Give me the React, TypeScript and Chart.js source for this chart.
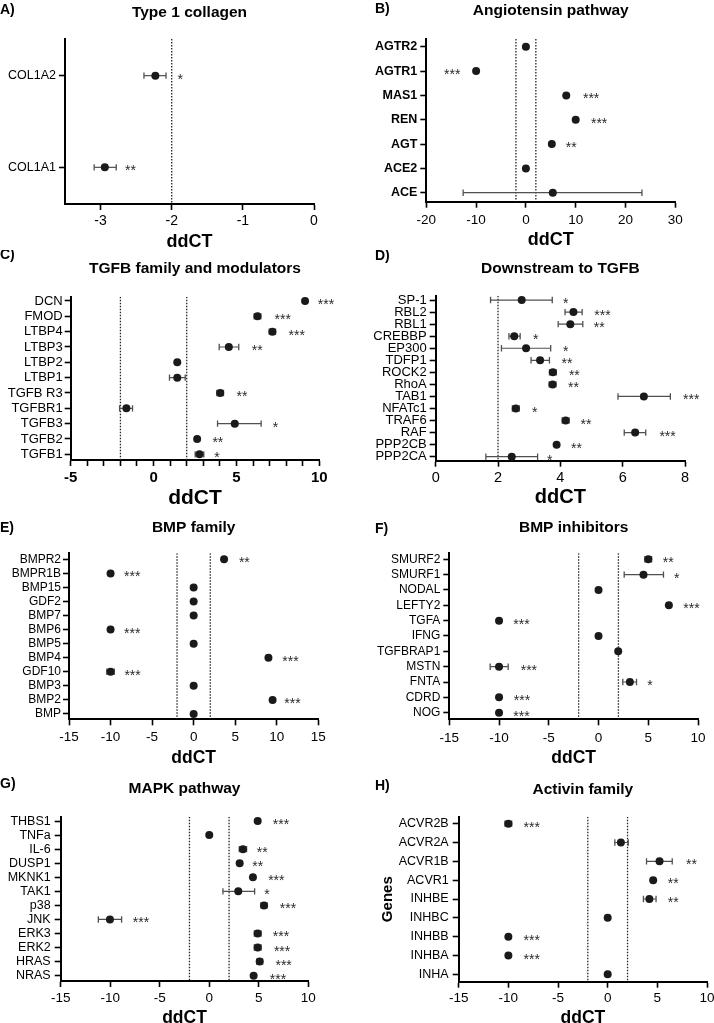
import React, { useEffect, useRef } from "react";
import { Chart, registerables } from "chart.js";

Chart.register(...registerables);

const FONT = "'Liberation Sans', Arial, Helvetica, sans-serif";
Chart.defaults.font.family = FONT;
Chart.defaults.color = "#000";

// ---------- A) Type 1 collagen ----------
const A_GENES = ["COL1A2", "COL1A1"];
const A_MEAN = [-2.23, -2.94];
const A_LO = [-2.39, -3.09];
const A_HI = [-2.08, -2.78];
const A_SIG = ["*", "**"];
const A_SIG_X = [-1.88, -2.58];

// ---------- B) Angiotensin pathway ----------
const B_GENES = ["AGTR2", "AGTR1", "MAS1", "REN", "AGT", "ACE2", "ACE"];
const B_MEAN = [0, -10, 8.1, 10, 5.2, 0, 5.4];
const B_LO = [null, null, null, null, null, null, -12.6];
const B_HI = [null, null, null, null, null, null, 23.3];
const B_SIG = ["", "***", "***", "***", "**", "", ""];
const B_SIG_X = [null, -14.8, 13.1, 14.7, 9.1, null, null];

// ---------- C) TGFB family and modulators ----------
const C_GENES = ["DCN", "FMOD", "LTBP4", "LTBP3", "LTBP2", "LTBP1", "TGFB R3", "TGFBR1", "TGFB3", "TGFB2", "TGFB1"];
const C_MEAN = [9.14, 6.27, 7.17, 4.54, 1.43, 1.43, 4.02, -1.64, 4.9, 2.63, 2.77];
const C_LO = [null, 6.07, 6.98, 3.96, null, 0.96, 3.82, -2.05, 3.86, null, 2.51];
const C_HI = [null, 6.47, 7.36, 5.14, null, 1.91, 4.22, -1.27, 6.49, null, 3.03];
const C_SIG = ["***", "***", "***", "**", "", "", "**", "", "*", "**", "*"];
const C_SIG_X = [10.4, 7.79, 8.64, 6.25, null, null, 5.34, null, 7.35, 3.88, 3.82];

// ---------- D) Downstream to TGFB ----------
const D_GENES = ["SP-1", "RBL2", "RBL1", "CREBBP", "EP300", "TDFP1", "ROCK2", "RhoA", "TAB1", "NFATc1", "TRAF6", "RAF", "PPP2CB", "PPP2CA"];
const D_MEAN = [2.76, 4.42, 4.32, 2.52, 2.9, 3.35, 3.76, 3.75, 6.68, 2.57, 4.17, 6.4, 3.88, 2.44];
const D_LO = [1.76, 4.15, 3.93, 2.35, 2.11, 3.06, 3.65, 3.64, 5.85, 2.46, 4.06, 6.05, null, 1.61];
const D_HI = [3.74, 4.7, 4.72, 2.71, 3.69, 3.65, 3.87, 3.86, 7.53, 2.68, 4.28, 6.74, null, 3.27];
const D_SIG = ["*", "***", "**", "*", "*", "**", "**", "**", "***", "*", "**", "***", "**", "*"];
const D_SIG_X = [4.17, 5.35, 5.25, 3.21, 4.17, 4.21, 4.45, 4.42, 8.2, 3.18, 4.82, 7.44, 4.52, 3.66];

// ---------- E) BMP family ----------
const E_GENES = ["BMPR2", "BMPR1B", "BMP15", "GDF2", "BMP7", "BMP6", "BMP5", "BMP4", "GDF10", "BMP3", "BMP2", "BMP"];
const E_MEAN = [3.66, -10, 0, 0, 0, -10, 0, 9.0, -10, 0, 9.5, 0];
const E_LO = [null, null, null, null, null, null, null, null, -10.45, null, null, null];
const E_HI = [null, null, null, null, null, null, null, null, -9.55, null, null, null];
const E_SIG = ["**", "***", "", "", "", "***", "", "***", "***", "", "***", ""];
const E_SIG_X = [6.1, -7.4, null, null, null, -7.4, null, 11.65, -7.35, null, 11.9, null];

// ---------- F) BMP inhibitors ----------
const F_GENES = ["SMURF2", "SMURF1", "NODAL", "LEFTY2", "TGFA", "IFNG", "TGFBRAP1", "MSTN", "FNTA", "CDRD", "NOG"];
const F_MEAN = [5.0, 4.52, 0, 7.07, -10, 0, 1.98, -10, 3.15, -10, -10];
const F_LO = [4.66, 2.58, null, null, null, null, null, -10.89, 2.44, null, null];
const F_HI = [5.34, 6.53, null, null, null, null, null, -9.08, 3.82, null, null];
const F_SIG = ["**", "*", "", "***", "***", "", "", "***", "*", "***", "***"];
const F_SIG_X = [7.0, 7.87, null, 9.35, -7.74, null, null, -7.0, 5.16, -7.7, -7.74];

// ---------- G) MAPK pathway ----------
const G_GENES = ["THBS1", "TNFa", "IL-6", "DUSP1", "MKNK1", "TAK1", "p38", "JNK", "ERK3", "ERK2", "HRAS", "NRAS"];
const G_MEAN = [4.89, 0, 3.4, 3.07, 4.41, 2.93, 5.53, -10.03, 4.89, 4.89, 5.09, 4.48];
const G_LO = [null, null, 3.03, null, null, 1.38, 5.21, -11.2, 4.55, 4.55, 4.79, null];
const G_HI = [null, null, 3.77, null, null, 4.58, 5.85, -8.85, 5.23, 5.23, 5.39, null];
const G_SIG = ["***", "", "**", "**", "***", "*", "***", "***", "***", "***", "***", "***"];
const G_SIG_X = [7.24, null, 5.35, 4.89, 6.77, 5.83, 7.95, -6.9, 7.24, 7.35, 7.51, 6.94];

// ---------- H) Activin family ----------
const H_GENES = ["ACVR2B", "ACVR2A", "ACVR1B", "ACVR1", "INHBE", "INHBC", "INHBB", "INHBA", "INHA"];
const H_MEAN = [-10, 1.33, 5.22, 4.58, 4.2, 0, -10, -10, 0];
const H_LO = [-10.34, 0.72, 3.91, null, 3.6, null, null, null, null];
const H_HI = [-9.66, 2.07, 6.5, null, 4.87, null, null, null, null];
const H_SIG = ["***", "", "**", "**", "**", "", "***", "***", ""];
const H_SIG_X = [-7.65, null, 8.44, 6.6, 6.6, null, -7.65, -7.65, null];

type Num = number | null;
type Panel = {
  letter: string;
  title: string;
  genes: string[];
  mean: number[];
  lo: Num[];
  hi: Num[];
  sig: string[];
  sigX: Num[];
  xMin: number;
  xMax: number;
  xStep: number;
  labelEvery: number;
  thresholds: number[];
  canvas: [number, number, number, number];
  plot: [number, number, number, number];
  yMin: number;
  yMax: number;
  titleY: number;
  letterX: number;
  letterY: number;
  tickY: number;
  ddctY: number;
  labelSize: number;
  labelBold: boolean;
  tickSize: number;
  tickBold: boolean;
  ddctSize: number;
  yPad: number;
  yTitle?: { text: string; x: number; size: number };
};

const PANELS: Panel[] = [
  {
    letter: "A)", title: "Type 1 collagen", genes: A_GENES, mean: A_MEAN, lo: A_LO, hi: A_HI, sig: A_SIG, sigX: A_SIG_X,
    xMin: -3.5, xMax: 0, xStep: 1, labelEvery: 1, thresholds: [-2],
    canvas: [0, 0, 357, 258], plot: [65, 39, 314, 204], yMin: -0.4, yMax: 1.4,
    titleY: 12.5, letterX: 0, letterY: 10, tickY: 221.2, ddctY: 241.7,
    labelSize: 12.5, labelBold: false, tickSize: 14, tickBold: false, ddctSize: 18, yPad: 3,
  },
  {
    letter: "B)", title: "Angiotensin pathway", genes: B_GENES, mean: B_MEAN, lo: B_LO, hi: B_HI, sig: B_SIG, sigX: B_SIG_X,
    xMin: -20, xMax: 30, xStep: 10, labelEvery: 10, thresholds: [-2, 2],
    canvas: [357, 0, 373, 256], plot: [426.3, 39, 675.3, 201.7], yMin: -0.32, yMax: 6.37,
    titleY: 10.5, letterX: 375, letterY: 9.5, tickY: 220.5, ddctY: 240,
    labelSize: 12.5, labelBold: true, tickSize: 13.5, tickBold: false, ddctSize: 18, yPad: 3,
  },
  {
    letter: "C)", title: "TGFB family and modulators", genes: C_GENES, mean: C_MEAN, lo: C_LO, hi: C_HI, sig: C_SIG, sigX: C_SIG_X,
    xMin: -5, xMax: 10, xStep: 1, labelEvery: 5, thresholds: [-2, 2],
    canvas: [0, 250, 357, 265], plot: [70.7, 296.7, 319.3, 460], yMin: -0.28, yMax: 10.37,
    titleY: 268.7, letterX: 0, letterY: 255, tickY: 478.3, ddctY: 498.7,
    labelSize: 13, labelBold: false, tickSize: 15, tickBold: true, ddctSize: 21, yPad: 2,
  },
  {
    letter: "D)", title: "Downstream to TGFB", genes: D_GENES, mean: D_MEAN, lo: D_LO, hi: D_HI, sig: D_SIG, sigX: D_SIG_X,
    xMin: 0, xMax: 8, xStep: 2, labelEvery: 2, thresholds: [2],
    canvas: [357, 250, 373, 264], plot: [435.7, 295.7, 685, 460.7], yMin: -0.36, yMax: 13.33,
    titleY: 268.7, letterX: 375, letterY: 256.5, tickY: 478.3, ddctY: 497.3,
    labelSize: 13, labelBold: false, tickSize: 14.5, tickBold: false, ddctSize: 20, yPad: 3,
  },
  {
    letter: "E)", title: "BMP family", genes: E_GENES, mean: E_MEAN, lo: E_LO, hi: E_HI, sig: E_SIG, sigX: E_SIG_X,
    xMin: -15, xMax: 15, xStep: 5, labelEvery: 5, thresholds: [-2, 2],
    canvas: [0, 510, 357, 264], plot: [69, 553.3, 318.3, 719.3], yMin: -0.43, yMax: 11.38,
    titleY: 527.5, letterX: 0, letterY: 528, tickY: 737.2, ddctY: 757.7,
    labelSize: 12, labelBold: false, tickSize: 13.5, tickBold: false, ddctSize: 17.5, yPad: 2,
  },
  {
    letter: "F)", title: "BMP inhibitors", genes: F_GENES, mean: F_MEAN, lo: F_LO, hi: F_HI, sig: F_SIG, sigX: F_SIG_X,
    xMin: -15, xMax: 10, xStep: 5, labelEvery: 5, thresholds: [-2, 2],
    canvas: [357, 510, 373, 264], plot: [449.3, 553.3, 698, 719.3], yMin: -0.39, yMax: 10.43,
    titleY: 528, letterX: 375, letterY: 529, tickY: 738, ddctY: 758,
    labelSize: 12, labelBold: false, tickSize: 13.5, tickBold: false, ddctSize: 17.5, yPad: 3,
  },
  {
    letter: "G)", title: "MAPK pathway", genes: G_GENES, mean: G_MEAN, lo: G_LO, hi: G_HI, sig: G_SIG, sigX: G_SIG_X,
    xMin: -15, xMax: 10, xStep: 5, labelEvery: 5, thresholds: [-2, 2],
    canvas: [0, 768, 357, 266], plot: [60.7, 816.7, 308.3, 981], yMin: -0.31, yMax: 11.38,
    titleY: 789.2, letterX: 0, letterY: 784, tickY: 997.8, ddctY: 1018.3,
    labelSize: 12.5, labelBold: false, tickSize: 13.5, tickBold: false, ddctSize: 17.5, yPad: 4,
  },
  {
    letter: "H)", title: "Activin family", genes: H_GENES, mean: H_MEAN, lo: H_LO, hi: H_HI, sig: H_SIG, sigX: H_SIG_X,
    xMin: -15, xMax: 10, xStep: 5, labelEvery: 5, thresholds: [-2, 2],
    canvas: [357, 768, 373, 266], plot: [458.7, 816.7, 707, 981.7], yMin: -0.37, yMax: 8.39,
    titleY: 789.5, letterX: 375, letterY: 786, tickY: 997.8, ddctY: 1018.3,
    labelSize: 12.5, labelBold: false, tickSize: 13.5, tickBold: false, ddctSize: 17.5, yPad: 4,
    yTitle: { text: "Genes", x: 387.7, size: 15 },
  },
];

const TICK_LEN = 6;
const DOT = "#1a1a1a";
const BAR = "#505050";

function makeDecor(p: Panel) {
  return {
    id: "decor" + p.letter,
    afterDatasetsDraw(chart: any) {
      const { ctx, chartArea, scales } = chart;
      const [cx, cy] = p.canvas;
      ctx.save();
      // significance stars
      ctx.fillStyle = "#2a2a2a";
      ctx.font = `14px ${FONT}`;
      ctx.textAlign = "center";
      ctx.textBaseline = "alphabetic";
      p.sig.forEach((s, i) => {
        const sx = p.sigX[i];
        if (!s || sx === null) return;
        const x = scales.x.getPixelForValue(sx);
        const y = scales.y.getPixelForValue(i);
        ctx.fillText(s, x, y + 8);
      });
      // panel title
      ctx.fillStyle = "#000";
      ctx.font = `bold 15.5px ${FONT}`;
      ctx.textBaseline = "middle";
      ctx.fillText(p.title, (chartArea.left + chartArea.right) / 2, p.titleY - cy);
      // panel letter
      ctx.textAlign = "left";
      ctx.font = `bold 14px ${FONT}`;
      ctx.fillText(p.letter, p.letterX - cx, p.letterY - cy);
      ctx.restore();
    },
  };
}

function buildConfig(p: Panel): any {
  const [cx, cy, cw, ch] = p.canvas;
  const [L, T, R, B] = p.plot;
  const tickLH = p.tickSize * 1.2;
  const ddctLH = p.ddctSize * 1.2;
  const xPad = p.tickY - B - TICK_LEN - tickLH / 2;
  const ddctPadBottom = cy + ch - ddctLH / 2 - p.ddctY;

  const datasets: any[] = [];
  datasets.push({
    type: "scatter",
    data: p.mean.map((m, i) => ({ x: m, y: i })),
    pointRadius: 4,
    pointHoverRadius: 4,
    backgroundColor: DOT,
    borderColor: DOT,
    pointBorderWidth: 0,
  });
  p.mean.forEach((_, i) => {
    const lo = p.lo[i];
    const hi = p.hi[i];
    if (lo === null || hi === null) return;
    datasets.push({
      type: "scatter",
      showLine: true,
      data: [
        { x: lo, y: i },
        { x: hi, y: i },
      ],
      borderColor: BAR,
      borderWidth: 1.2,
      pointStyle: "line",
      pointRotation: 90,
      pointRadius: 3.2,
      pointHoverRadius: 3.2,
      pointBorderColor: BAR,
      pointBorderWidth: 1.3,
      backgroundColor: BAR,
    });
  });
  p.thresholds.forEach((t) => {
    datasets.push({
      type: "scatter",
      showLine: true,
      data: [
        { x: t, y: p.yMin },
        { x: t, y: p.yMax },
      ],
      borderColor: "#222",
      borderWidth: 1.3,
      borderDash: [1.5, 1.5],
      pointRadius: 0,
      pointHoverRadius: 0,
    });
  });

  const yTitle = p.yTitle
    ? {
        display: true,
        text: p.yTitle.text,
        color: "#000",
        font: { size: p.yTitle.size, weight: "bold", lineHeight: 1.2 },
        padding: { top: p.yTitle.x - cx - (p.yTitle.size * 1.2) / 2, bottom: 0 },
      }
    : { display: false };

  return {
    type: "scatter",
    data: { datasets },
    options: {
      responsive: false,
      maintainAspectRatio: false,
      animation: false,
      devicePixelRatio: 1,
      events: [],
      layout: { padding: { left: 0, top: T - cy, right: cx + cw - R, bottom: 0 } },
      plugins: {
        legend: { display: false },
        tooltip: { enabled: false },
        title: { display: false },
      },
      scales: {
        x: {
          type: "linear",
          position: "bottom",
          min: p.xMin,
          max: p.xMax,
          afterFit: (s: any) => {
            s.height = cy + ch - B;
          },
          ticks: {
            stepSize: p.xStep,
            autoSkip: false,
            includeBounds: false,
            maxRotation: 0,
            minRotation: 0,
            padding: xPad,
            color: "#000",
            font: { size: p.tickSize, weight: p.tickBold ? "bold" : "normal", lineHeight: 1.2 },
            callback: (v: number) => {
              const r = v / p.labelEvery;
              return Math.abs(r - Math.round(r)) < 1e-6 ? String(Math.round(v * 100) / 100) : "";
            },
          },
          grid: {
            display: true,
            drawOnChartArea: false,
            drawTicks: true,
            tickLength: TICK_LEN,
            tickWidth: 1.6,
            tickColor: "#000",
          },
          border: { display: true, color: "#000", width: 2 },
          title: {
            display: true,
            text: "ddCT",
            color: "#000",
            font: { size: p.ddctSize, weight: "bold", lineHeight: 1.2 },
            padding: { top: 0, bottom: ddctPadBottom },
          },
        },
        y: {
          type: "linear",
          position: "left",
          reverse: true,
          min: p.yMin,
          max: p.yMax,
          afterFit: (s: any) => {
            s.width = L - cx;
          },
          afterBuildTicks: (s: any) => {
            s.ticks = p.genes.map((_, i) => ({ value: i }));
          },
          ticks: {
            autoSkip: false,
            padding: p.yPad,
            color: "#000",
            font: { size: p.labelSize, weight: p.labelBold ? "bold" : "normal", lineHeight: 1.2 },
            callback: (v: number) => p.genes[Math.round(v)] ?? "",
          },
          grid: {
            display: true,
            drawOnChartArea: false,
            drawTicks: true,
            tickLength: TICK_LEN,
            tickWidth: 1.6,
            tickColor: "#000",
          },
          border: { display: true, color: "#000", width: 2 },
          title: yTitle,
        },
      },
    },
    plugins: [makeDecor(p)],
  };
}

function PanelChart({ p }: { p: Panel }) {
  const ref = useRef<HTMLCanvasElement>(null);
  useEffect(() => {
    if (!ref.current) return;
    const chart = new Chart(ref.current, buildConfig(p));
    return () => chart.destroy();
  }, [p]);
  const [cx, cy, cw, ch] = p.canvas;
  return (
    <canvas
      ref={ref}
      width={cw}
      height={ch}
      style={{ position: "absolute", left: cx, top: cy, width: cw, height: ch }}
    />
  );
}

export default function App() {
  return (
    <div
      style={{
        position: "absolute",
        left: 0,
        top: 0,
        width: 714,
        height: 1023,
        overflow: "hidden",
        background: "#fff",
      }}
    >
      {PANELS.map((p) => (
        <PanelChart key={p.letter} p={p} />
      ))}
    </div>
  );
}
